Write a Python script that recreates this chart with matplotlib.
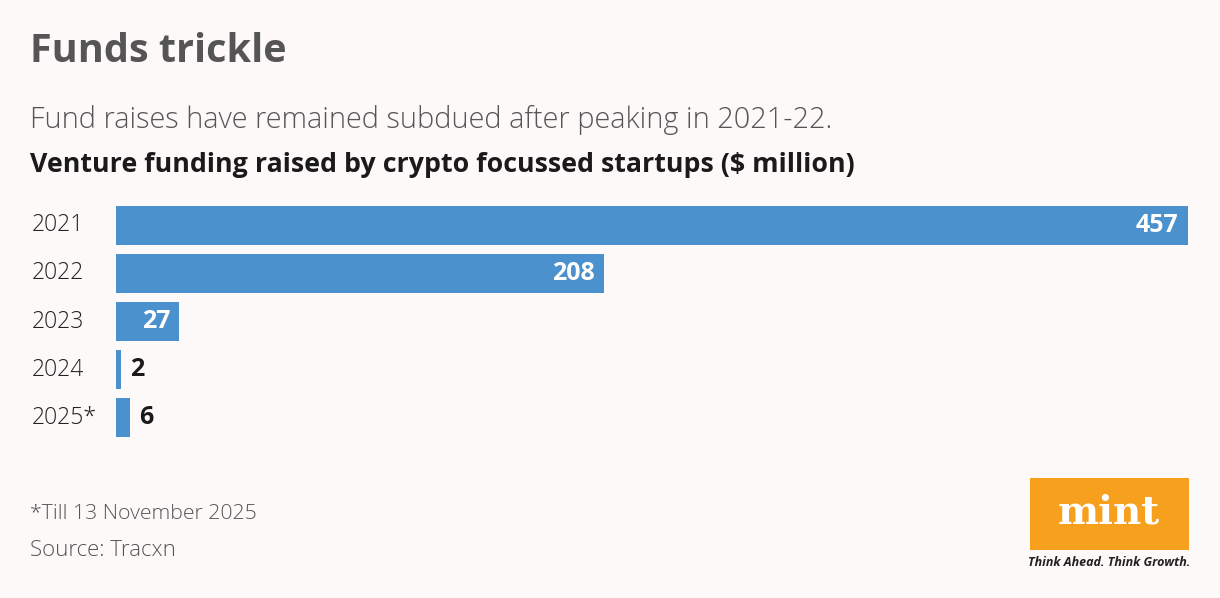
import matplotlib.pyplot as plt
from matplotlib.patches import Rectangle

# data
years = ['2021', '2022', '2023', '2024', '2025*']
funding = [457, 208, 27, 2, 6]

bg = '#fdf9f9'
bar_col = '#4b91cd'

fig = plt.figure(figsize=(12.2, 5.98), dpi=100)
fig.patch.set_facecolor(bg)

W, H = 1220, 598

def fx(px):
    return px / W

def fy(py):
    return 1 - py / H

# titles
fig.text(fx(30), fy(52), 'Funds trickle', fontsize=28.5, fontweight='bold',
         family='Open Sans', color='#555555', va='center', ha='left')
fig.text(fx(30), fy(120), 'Fund raises have remained subdued after peaking in 2021-22.',
         fontsize=20.8, fontweight='light', family='Open Sans', color='#555555',
         va='center', ha='left')
fig.text(fx(30), fy(165), 'Venture funding raised by crypto focussed startups ($ million)',
         fontsize=19.3, fontweight='bold', family='Open Sans', color='#1a1a1a',
         va='center', ha='left')

# bars
ax = fig.add_axes([fx(116), fy(437), fx(1188) - fx(116), (437 - 206) / H])
ax.set_facecolor(bg)
ypos = list(range(len(years)))
ax.barh(ypos, funding, height=0.81, color=bar_col)
ax.set_xlim(0, max(funding))
ax.set_ylim(len(years) - 1 + 0.405, -0.405)
ax.axis('off')

for y, lab, v in zip(ypos, years, funding):
    ax.text(-84 / 2.346, y, lab, fontsize=16.5, fontweight='light', family='Open Sans',
            color='#222222', va='center', ha='left')
    if v > 15:
        ax.text(v - 4, y, str(v), fontsize=18, fontweight='bold', family='Open Sans',
                color='white', va='center', ha='right')
    else:
        ax.text(v + 4, y, str(v), fontsize=18, fontweight='bold', family='Open Sans',
                color='#1a1a1a', va='center', ha='left')

# footnotes
fig.text(fx(30), fy(514), '*Till 13 November 2025', fontsize=15.3, fontweight='light',
         family='Open Sans', color='#555555', va='center', ha='left')
fig.text(fx(30), fy(551), 'Source: Tracxn', fontsize=16, fontweight='light',
         family='Open Sans', color='#555555', va='center', ha='left')

# logo
fig.patches.append(Rectangle((fx(1030), fy(550)), fx(1189) - fx(1030), (550 - 478) / H,
                             transform=fig.transFigure, facecolor='#f7a01e',
                             edgecolor='none'))
fig.text(fx(1109), fy(512), 'mint', fontsize=28, fontweight='bold', family='DejaVu Serif',
         color='white', va='center', ha='center')
fig.text(fx(1109), fy(563), 'Think Ahead. Think Growth.', fontsize=9, fontweight='bold',
         style='italic', family='Open Sans', color='#222222', va='center', ha='center')

fig.savefig('out.png', dpi=100, facecolor=bg)
